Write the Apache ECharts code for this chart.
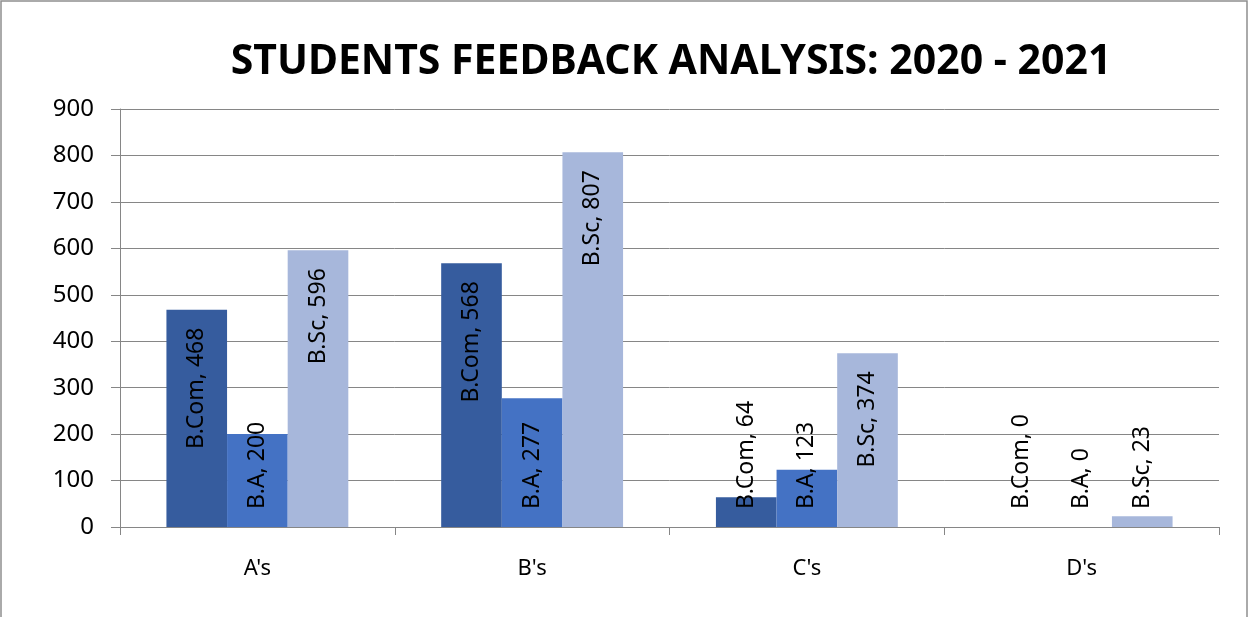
<!DOCTYPE html>
<html>
<head>
<meta charset="utf-8">
<script src="https://cdn.jsdelivr.net/npm/echarts@6/dist/echarts.min.js"></script>
<style>
html,body{margin:0;padding:0;background:#fff;}
#chart{width:1249px;height:617px;}
</style>
</head>
<body>
<div id="chart"></div>
<script>
const categories = ["A's", "B's", "C's", "D's"];
const seriesNames = ["B.Com", "B.A", "B.Sc"];
const bcomValues = [468, 568, 64, 0];
const baValues = [200, 277, 123, 0];
const bscValues = [596, 807, 374, 23];
const yTicks = [0, 100, 200, 300, 400, 500, 600, 700, 800, 900];
const colors = ["#365C9E", "#4472C4", "#A7B7DB"];

function itemsFor(values) {
  return values.map(v => {
    const top = v >= 300;
    return {
      value: v,
      label: {
        position: top ? 'insideTop' : 'insideBottom',
        align: top ? 'right' : 'left'
      }
    };
  });
}

const valueSets = [bcomValues, baValues, bscValues];
const chart = echarts.init(document.getElementById('chart'));
chart.setOption({
  animation: false,
  backgroundColor: '#fff',
  title: {
    text: 'STUDENTS FEEDBACK ANALYSIS: 2020 - 2021',
    left: 666,
    textAlign: 'center',
    top: 37,
    textStyle: {fontFamily: 'Noto Sans', fontWeight: 'bold', fontSize: 41, color: '#000'}
  },
  graphic: [{
    type: 'rect',
    shape: {x: 1, y: 1, width: 1246, height: 640},
    style: {fill: 'none', stroke: '#8e8e8e', lineWidth: 1.5},
    silent: true
  }],
  grid: {left: 120, right: 30, top: 109, bottom: 90},
  xAxis: {
    type: 'category',
    data: categories,
    axisLine: {lineStyle: {color: '#868686', width: 1}},
    axisTick: {show: true, length: 8, alignWithLabel: false, lineStyle: {color: '#868686'}},
    axisLabel: {color: '#000', fontFamily: 'Noto Sans', fontSize: 22, margin: 31}
  },
  yAxis: {
    type: 'value',
    min: yTicks[0],
    max: yTicks[yTicks.length - 1],
    interval: 100,
    axisLine: {show: true, lineStyle: {color: '#868686', width: 1}},
    axisTick: {show: true, length: 9, lineStyle: {color: '#868686'}},
    axisLabel: {color: '#000', fontFamily: 'Noto Sans', fontSize: 24, margin: 26},
    splitLine: {lineStyle: {color: '#868686', width: 1}}
  },
  series: seriesNames.map((name, i) => ({
    name: name,
    type: 'bar',
    data: itemsFor(valueSets[i]),
    barGap: '0%',
    barCategoryGap: '33.8%',
    itemStyle: {color: colors[i]},
    label: {
      show: true,
      rotate: 90,
      distance: 18,
      verticalAlign: 'middle',
      formatter: '{a}, {c}',
      color: '#000',
      fontFamily: 'Noto Sans',
      fontSize: 23
    }
  }))
});
</script>
</body>
</html>
